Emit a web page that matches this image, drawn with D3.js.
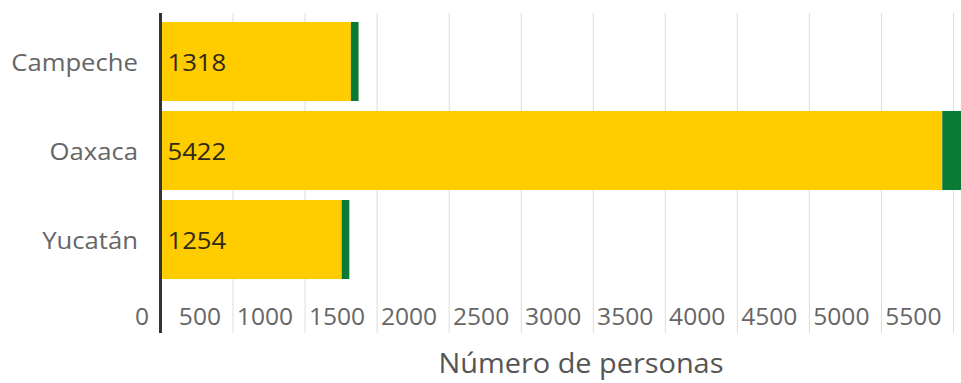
<!DOCTYPE html>
<html><head><meta charset="utf-8">
<script src="https://cdn.jsdelivr.net/npm/d3@7"></script>
<style>html,body{margin:0;padding:0;background:#fff;}svg{display:block;font-family:"Open Sans",sans-serif;}</style>
</head><body>
<svg id="c" width="961" height="383"></svg>
<script>
const categories = ["Campeche", "Oaxaca", "Yucatán"];
const mainValues = [1318, 5422, 1254];
const secondValues = [53, 130, 53];
const tickValues = [0, 500, 1000, 1500, 2000, 2500, 3000, 3500, 4000, 4500, 5000, 5500];
const axisTitle = "Número de personas";

(function () {
const svg = d3.select("#c");
const W = 961, H = 383;
const SX = 1.07;
const x = d3.scaleLinear().domain([0, 5500]).range([161, 953.5]);
const y = d3.scaleBand().domain(categories).range([17, 284]).paddingInner(0.112).paddingOuter(0.056);
const yTop = 13, yBottom = 333;
const tr = (px, py) => `translate(${px},${py}) scale(${SX},1)`;

svg.append("defs").append("clipPath").attr("id", "clip")
  .append("rect").attr("x", 0).attr("y", 0).attr("width", W).attr("height", H);

// gridlines
svg.append("g").selectAll("line").data(tickValues.filter(d => d > 0)).join("line")
  .attr("x1", d => x(d)).attr("x2", d => x(d)).attr("y1", yTop).attr("y2", yBottom)
  .attr("stroke", "#dddddd").attr("stroke-width", 1);

const data = categories.map((c, i) => ({c, v: mainValues[i], g: secondValues[i]}));
const bars = svg.append("g").attr("clip-path", "url(#clip)");
bars.selectAll("rect.main").data(data).join("rect").attr("class", "main")
  .attr("x", x(0)).attr("y", d => y(d.c)).attr("width", d => x(d.v) - x(0)).attr("height", y.bandwidth())
  .attr("fill", "#ffcc00");
bars.selectAll("rect.sec").data(data).join("rect").attr("class", "sec")
  .attr("x", d => x(d.v)).attr("y", d => y(d.c)).attr("width", d => x(d.v + d.g) - x(d.v)).attr("height", y.bandwidth())
  .attr("fill", "#0b7a35");

// value labels
svg.append("g").selectAll("text").data(data).join("text")
  .attr("transform", d => tr(x(0) + 6.5, y(d.c) + y.bandwidth() / 2 + 9))
  .attr("font-size", 24).attr("fill", "#2e2a1a").text(d => d.v);

// category labels
svg.append("g").selectAll("text").data(categories).join("text")
  .attr("transform", d => tr(138, y(d) + y.bandwidth() / 2 + 9))
  .attr("text-anchor", "end").attr("font-size", 24).attr("fill", "#666").text(d => d);

// tick labels
svg.append("g").selectAll("text").data(tickValues).join("text")
  .attr("transform", d => tr(x(d) - 12, 325))
  .attr("text-anchor", "end").attr("font-size", 23).attr("fill", "#666").text(d => d);

// axis line
svg.append("line").attr("x1", x(0) - 0.5).attr("x2", x(0) - 0.5).attr("y1", yTop).attr("y2", yBottom)
  .attr("stroke", "#333").attr("stroke-width", 3);

// axis title
svg.append("text").attr("transform", tr(581, 373)).attr("text-anchor", "middle")
  .attr("font-size", 27).attr("fill", "#555").text(axisTitle);
})();
</script>
</body></html>
